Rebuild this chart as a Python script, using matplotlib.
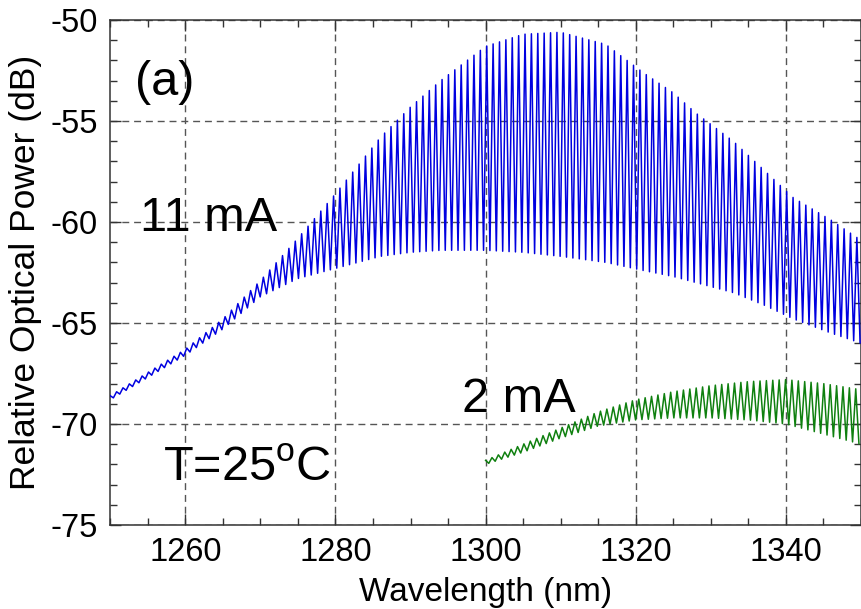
import numpy as np
import matplotlib
matplotlib.use("Agg")
import matplotlib.pyplot as plt
from matplotlib.ticker import MultipleLocator

plt.rcParams['font.family'] = ['Liberation Sans', 'DejaVu Sans']
plt.rcParams['mathtext.fontset'] = 'custom'
plt.rcParams['mathtext.rm'] = 'Liberation Sans'
plt.rcParams['axes.unicode_minus'] = False

# 11 mA spectrum: envelope of the Fabry-Perot fringes
wl_11 = [1250, 1260, 1265, 1270, 1275, 1280, 1286, 1290, 1294, 1300, 1305, 1310,
         1316, 1321, 1325, 1328, 1333, 1337, 1341, 1346, 1350]
top_11 = [-68.6, -66.3, -64.8, -62.9, -60.8, -58.6, -55.8, -54.3, -53.0, -51.3, -50.7, -50.6,
          -51.2, -52.6, -53.6, -54.6, -56.0, -57.4, -58.8, -59.9, -60.9]
bot_11 = [-68.8, -66.6, -65.3, -63.7, -62.8, -62.3, -61.7, -61.5, -61.4, -61.4, -61.5, -61.7,
          -62.0, -62.4, -62.7, -63.0, -63.5, -64.1, -64.8, -65.5, -66.0]

# 2 mA spectrum
wl_2 = [1300, 1305, 1310, 1315, 1320, 1325, 1330, 1335, 1340, 1345, 1350]
top_2 = [-71.8, -71.0, -70.2, -69.4, -68.8, -68.4, -68.1, -67.9, -67.8, -68.0, -68.3]
bot_2 = [-72.0, -71.4, -70.7, -70.1, -69.8, -69.7, -69.7, -69.8, -70.0, -70.5, -71.0]

fringe_period = 0.85  # nm, mode spacing


def fringes(wl, top, bot, period):
    # alternate between upper and lower envelope at each half period
    x = np.arange(wl[0], wl[-1] + 1e-9, period / 2)
    hi = np.interp(x, wl, top)
    lo = np.interp(x, wl, bot)
    y = np.where(np.arange(len(x)) % 2 == 0, hi, lo)
    return x, y


fig = plt.figure(figsize=(8.61, 6.09), dpi=100)
ax = fig.add_axes([0.128, 0.138, 0.872, 0.829])

x11, y11 = fringes(wl_11, top_11, bot_11, fringe_period)
x2, y2 = fringes(wl_2, top_2, bot_2, fringe_period)
ax.plot(x11, y11, color='#0000e0', lw=1.1, zorder=3)
ax.plot(x2, y2, color='#0f800f', lw=1.1, zorder=3)

ax.set_xlim(1250, 1350)
ax.set_ylim(-75, -50)
ax.xaxis.set_major_locator(MultipleLocator(20))
ax.xaxis.set_minor_locator(MultipleLocator(5))
ax.yaxis.set_major_locator(MultipleLocator(5))
ax.yaxis.set_minor_locator(MultipleLocator(1))
ax.tick_params(which='both', direction='in', top=True, right=True, width=1.0, color='#333333')
ax.tick_params(which='major', length=8, labelsize=23.5, pad=9)
ax.tick_params(which='minor', length=5)
ax.grid(True, which='major', color='#555555', linestyle=(0, (5, 3.5)), lw=1.0)
for s in ax.spines.values():
    s.set_color('#333333')
    s.set_linewidth(1.1)

ax.set_xlabel('Wavelength (nm)', fontsize=24, labelpad=6)
ax.set_ylabel('Relative Optical Power (dB)', fontsize=25.5, labelpad=6)

ax.text(1253.3, -53.1, '(a)', fontsize=35, va='center', ha='left')
ax.text(1254.0, -59.8, '11 mA', fontsize=35, va='center', ha='left')
ax.text(1296.8, -68.8, '2 mA', fontsize=35, va='center', ha='left')
ax.text(1257.0, -72.2, r'T=25$^{\mathrm{o}}$C', fontsize=35, va='center', ha='left')

fig.savefig('out.png', dpi=100)
